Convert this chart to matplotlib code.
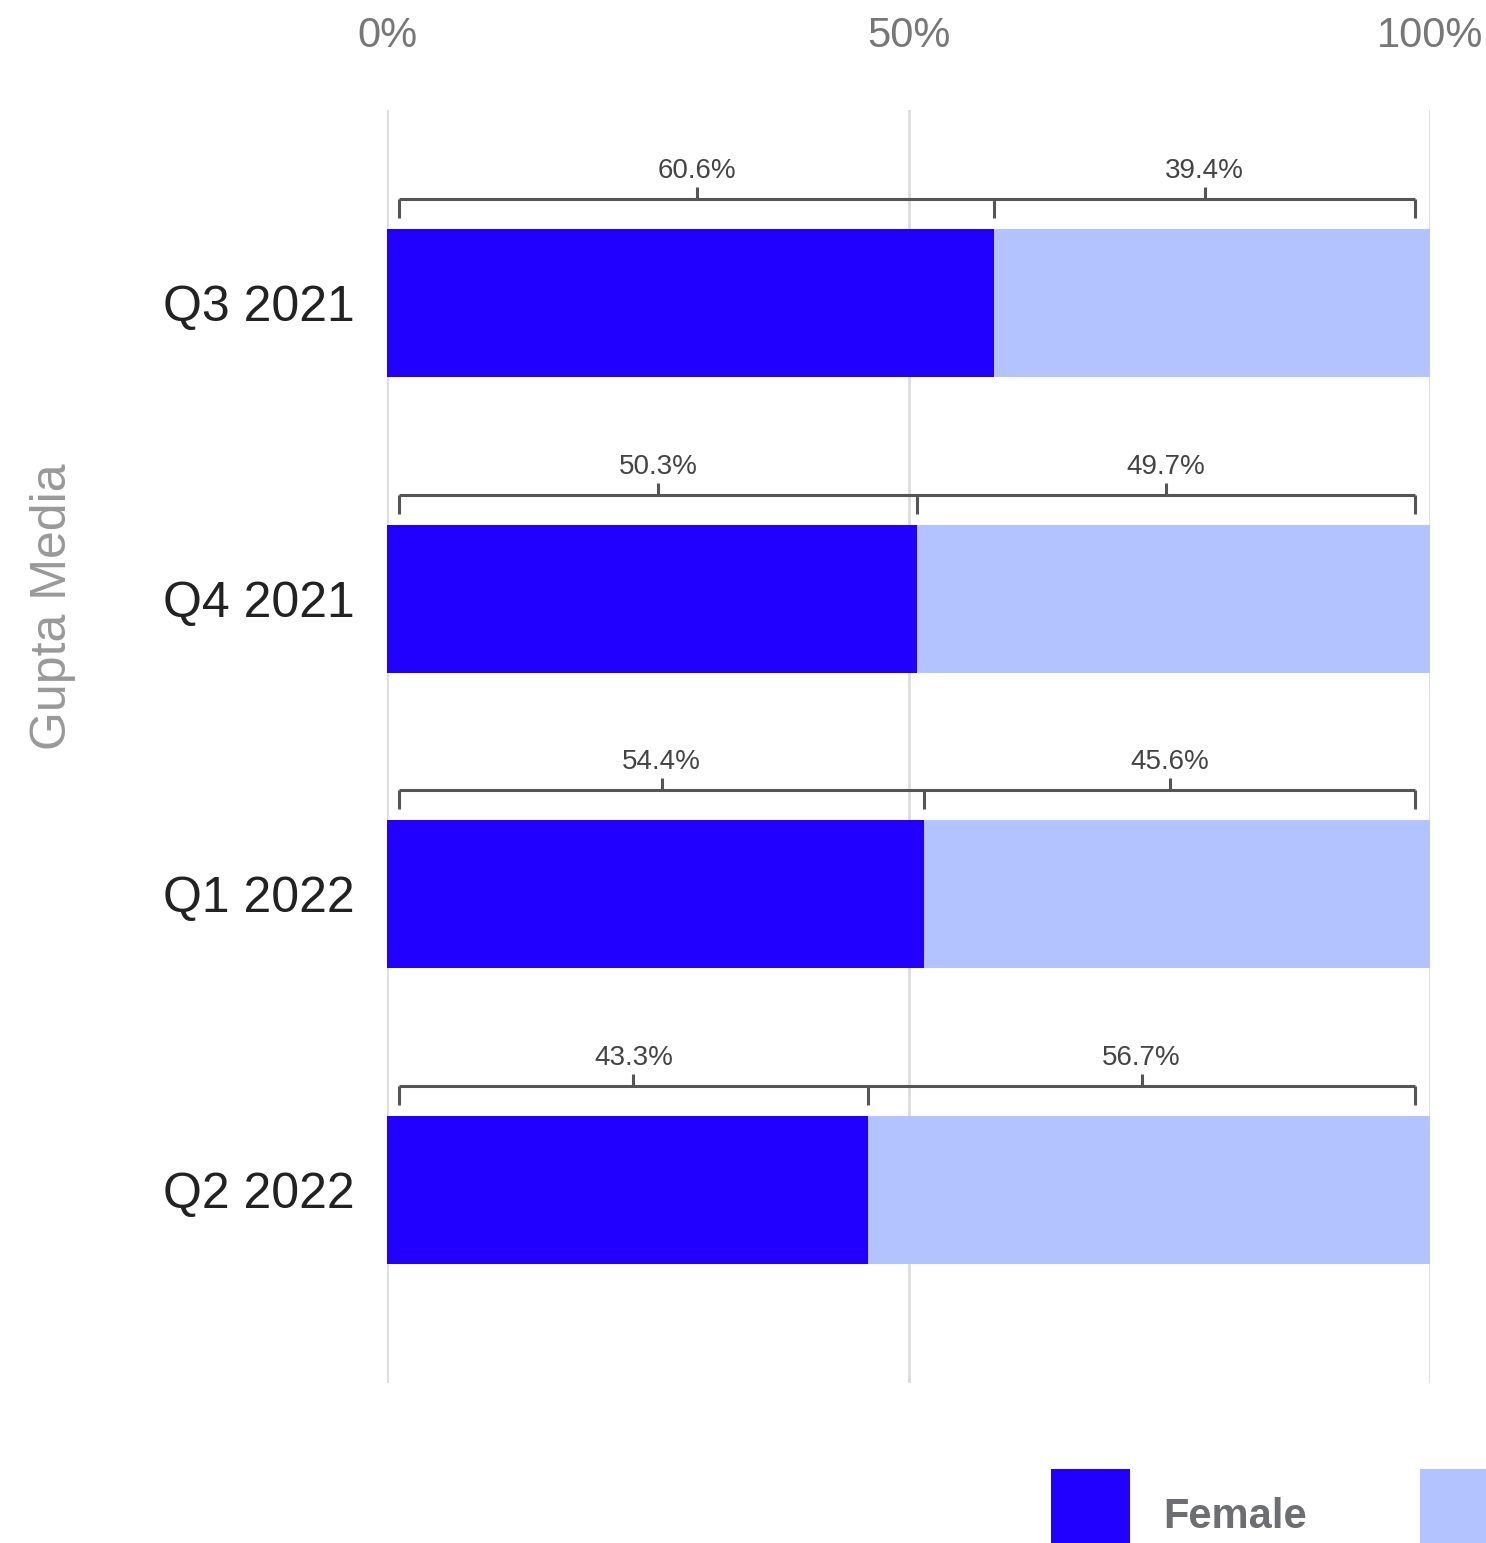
import matplotlib
matplotlib.use('Agg')
import matplotlib.pyplot as plt
from matplotlib.patches import Rectangle

quarters = ['Q3 2021', 'Q4 2021', 'Q1 2022', 'Q2 2022']
female_pct = [60.6, 50.3, 54.4, 43.3]
male_pct = [39.4, 49.7, 45.6, 56.7]
# where the split between the two colours is drawn in the picture (% of axis)
bar_split = [58.2, 50.8, 51.5, 46.1]

blue = '#2200ff'
light = '#b3c3ff'
plt.rcParams['font.family'] = ['Liberation Sans', 'DejaVu Sans']

W, H = 1486, 1543
fig = plt.figure(figsize=(W / 100, H / 100), dpi=100)
ax = fig.add_axes([387 / W, 1 - 1383 / H, 1043 / W, 1273 / H])

ypos = list(range(len(quarters)))
ax.barh(ypos, bar_split, height=0.5, color=blue, linewidth=0)
ax.barh(ypos, [100 - s for s in bar_split], left=bar_split, height=0.5,
        color=light, linewidth=0)

ax.set_xlim(0, 100)
ax.set_ylim(3.652, -0.652)
ax.set_xticks([0, 50, 100])
ax.set_xticklabels(['0%', '50%', '100%'])
ax.xaxis.tick_top()
ax.tick_params(axis='x', length=0, pad=39, labelsize=30, labelcolor='#777777')
ax.set_yticks(ypos)
ax.set_yticklabels(quarters)
ax.tick_params(axis='y', length=0, pad=23, labelsize=36, labelcolor='#222222')
ax.grid(axis='x', color='#dcdcdc', linewidth=2.0)
ax.set_axisbelow(True)
for s in ax.spines.values():
    s.set_visible(False)

# brackets above each bar
px = 1 / 296
x0, x1 = 1.15, 98.6
for i, (f, m) in enumerate(zip(female_pct, male_pct)):
    top = i - 0.25
    yb = top - 30 * px
    split = bar_split[i]
    kw = dict(color='#555555', linewidth=2.2, solid_capstyle='butt', clip_on=False)
    ax.plot([x0, x1], [yb, yb], **kw)
    for xe in (x0, split, x1):
        ax.plot([xe, xe], [yb, top - 11 * px], **kw)
    for (a, b), lab in zip([(x0, split), (split, x1)], [f, m]):
        xm = (a + b) / 2
        ax.plot([xm, xm], [yb, yb - 12 * px], **kw)
        ax.text(xm, top - 51 * px, f'{lab}%', ha='center', va='baseline',
                fontsize=20, color='#444444')

fig.text(53 / W, 1 - 607 / H, 'Gupta Media', rotation=90, ha='center',
         va='center', fontsize=36, color='#999999')

# legend (cut off at the figure edge)
fig.patches.append(Rectangle((1051 / W, 0), 79 / W, 74 / H, transform=fig.transFigure,
                             color=blue, linewidth=0))
fig.text(1163 / W, 1 - 1528 / H, 'Female', fontsize=30, fontweight='bold',
         color='#6d6e71', ha='left', va='baseline')
fig.patches.append(Rectangle((1420 / W, 0), 70 / W, 74 / H, transform=fig.transFigure,
                             color=light, linewidth=0))

fig.savefig('out.png', dpi=100)
